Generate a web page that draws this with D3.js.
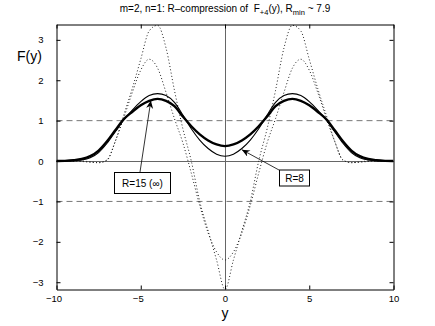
<!DOCTYPE html>
<html>
<head>
<meta charset="utf-8">
<script src="https://cdn.jsdelivr.net/npm/d3@7"></script>
<style>
  body { margin: 0; background: #fff; }
  text { font-family: "Liberation Sans", Arial, Helvetica, sans-serif; }
  .axis path, .axis line { stroke: #000; }
  .axis text { font-size: 9.5px; fill: #000; }
</style>
</head>
<body>
<div id="chart"></div>
<script>
// sample positions along y
var ys = [-10,-9.5,-9,-8.5,-8,-7.5,-7,-6.5,-6,-5.5,-5,-4.5,-4,-3.5,-3,-2.5,-2,-1.5,-1,-0.5,
          0,0.5,1,1.5,2,2.5,3,3.5,4,4.5,5,5.5,6,6.5,7,7.5,8,8.5,9,9.5,10];

// R=15 (~ infinity), thick line
var fR15 = [0,0.005,0.02,0.05,0.12,0.26,0.49,0.77,1.04,1.22,1.38,1.49,1.54,1.49,1.36,1.10,0.86,0.66,0.51,0.41,
            0.37,0.41,0.51,0.66,0.86,1.10,1.36,1.49,1.54,1.49,1.38,1.22,1.04,0.77,0.49,0.26,0.12,0.05,0.02,0.005,0];
// R=8, thin line
var fR8 = [0,0,0.007,0.025,0.08,0.21,0.44,0.73,1.02,1.26,1.47,1.62,1.67,1.62,1.45,1.14,0.80,0.52,0.31,0.17,
           0.12,0.17,0.31,0.52,0.80,1.14,1.45,1.62,1.67,1.62,1.47,1.26,1.02,0.73,0.44,0.21,0.08,0.025,0.007,0,0];
// dotted, closer to Rmin
var fDotA = [0,0,0,-0.01,-0.03,-0.04,0.02,0.50,1.15,1.80,2.52,3.22,3.36,2.80,1.75,0.80,0.0,-1.0,-1.73,-2.45,
             -3.18,-2.45,-1.73,-1.0,0.0,0.80,1.75,2.80,3.36,3.22,2.52,1.80,1.15,0.50,0.02,-0.04,-0.03,-0.01,0,0,0];
var fDotB = [0,0,0,0,-0.02,-0.04,0.03,0.50,1.08,1.70,2.25,2.52,2.30,1.70,1.05,0.45,-0.3,-1.1,-1.78,-2.25,
             -2.45,-2.25,-1.78,-1.1,-0.3,0.45,1.05,1.70,2.30,2.52,2.25,1.70,1.08,0.50,0.03,-0.04,-0.02,0,0,0,0];

var xTicks = [-10,-5,0,5,10];
var yTicks = [-3,-2,-1,0,1,2,3];
var dashLevels = [1,-1];

createPlot();

function createPlot(){
  var svg = d3.select("#chart")
      .append("svg")
      .attr("width", 435)
      .attr("height", 326);

  var pArea = [56.5, 24.5, 393.5, 289.5];

  var x = d3.scaleLinear()
      .domain([-10,10])
      .range([pArea[0], pArea[2]]);
  var y = d3.scaleLinear()
      .domain([-3.18,3.38])
      .range([pArea[3], pArea[1]]);

  var defs = svg.append("defs");
  defs.append("clipPath").attr("id","clip")
    .append("rect")
      .attr("x", pArea[0]).attr("y", pArea[1])
      .attr("width", pArea[2]-pArea[0]).attr("height", pArea[3]-pArea[1]);
  defs.append("marker")
      .attr("id","head")
      .attr("markerUnits","userSpaceOnUse")
      .attr("markerWidth", 10).attr("markerHeight", 8)
      .attr("refX", 8).attr("refY", 3.5)
      .attr("orient","auto")
    .append("path")
      .attr("d","M0,0 L8,3.5 L0,7 L2.5,3.5 Z")
      .attr("fill","#000");

  var g = svg.append("g").attr("clip-path","url(#clip)");

  // reference lines
  g.selectAll(".dash").data(dashLevels).enter()
    .append("line")
      .attr("x1", x(-10)).attr("x2", x(10))
      .attr("y1", function(d){ return y(d); })
      .attr("y2", function(d){ return y(d); })
      .attr("stroke","#777").attr("stroke-width",1)
      .attr("stroke-dasharray","6,4");
  g.append("line")
      .attr("x1", x(-10)).attr("x2", x(10))
      .attr("y1", Math.round(y(0))+0.5).attr("y2", Math.round(y(0))+0.5)
      .attr("stroke","#666").attr("stroke-width",1);
  g.append("line")
      .attr("x1", Math.round(x(0))+0.5).attr("x2", Math.round(x(0))+0.5)
      .attr("y1", y(-3.18)).attr("y2", y(3.38))
      .attr("stroke","#666").attr("stroke-width",1);

  var line = function(vals){
    return d3.line()
      .x(function(d,i){ return x(ys[i]); })
      .y(function(d){ return y(d); })
      .curve(d3.curveMonotoneX)(vals);
  };

  g.append("path").attr("d", line(fDotA))
    .attr("fill","none").attr("stroke","#222").attr("stroke-width",1)
    .attr("stroke-dasharray","1,2.3");
  g.append("path").attr("d", line(fDotB))
    .attr("fill","none").attr("stroke","#222").attr("stroke-width",1)
    .attr("stroke-dasharray","1,2.3");
  g.append("path").attr("d", line(fR8))
    .attr("fill","none").attr("stroke","#000").attr("stroke-width",1.1);
  g.append("path").attr("d", line(fR15))
    .attr("fill","none").attr("stroke","#000").attr("stroke-width",2.4);

  // axes, MATLAB style: ticks inside, box on
  svg.append("g")
    .attr("class","axis")
    .attr("transform", `translate(${pArea[0]},0)`)
    .call(d3.axisLeft(y).tickValues(yTicks).tickSizeInner(-4).tickSizeOuter(0).tickPadding(13)
      .tickFormat(function(d){ return d<0 ? "\u2212"+(-d) : d; }));
  svg.append("g")
    .attr("class","axis")
    .attr("transform", `translate(${pArea[2]},0)`)
    .call(d3.axisRight(y).tickValues(yTicks).tickSizeInner(-4).tickSizeOuter(0).tickFormat(""));
  var xa = svg.append("g")
    .attr("class","axis")
    .attr("transform", `translate(0,${pArea[3]})`)
    .call(d3.axisBottom(x).tickValues(xTicks).tickSizeInner(-4).tickSizeOuter(0).tickPadding(6)
      .tickFormat(function(d){ return d<0 ? "\u2212"+(-d) : d; }));
  xa.selectAll("text").attr("dx", function(d){ return d<0 ? -3 : 0; });
  svg.append("g")
    .attr("class","axis")
    .attr("transform", `translate(0,${pArea[1]})`)
    .call(d3.axisTop(x).tickValues(xTicks).tickSizeInner(-4).tickSizeOuter(0).tickFormat(""));
  svg.selectAll(".axis .domain").attr("stroke-width",1);

  // labels
  svg.append("text")
    .attr("x", 17).attr("y", 61)
    .style("font-size","14px")
    .text("F(y)");
  svg.append("text")
    .attr("x", (x.range()[0]+x.range()[1])*0.5).attr("y", 318)
    .attr("text-anchor","middle")
    .style("font-size","14px")
    .text("y");

  var title = svg.append("text")
    .attr("x", 225).attr("y", 12)
    .attr("text-anchor","middle")
    .style("font-size","10px");
  title.append("tspan").text("m=2, n=1: R\u2013compression of \u00A0F");
  title.append("tspan").attr("dy",3).style("font-size","7.5px").text("+4");
  title.append("tspan").attr("dy",-3).text("(y), R");
  title.append("tspan").attr("dy",3).style("font-size","7.5px").text("min");
  title.append("tspan").attr("dy",-3).text(" ~ 7.9");

  // annotations
  var notes = [
    {label:"R=15 (\u221E)", box:[114,172,56,21], from:[140,172], to:[x(-4.4), y(1.5)]},
    {label:"R=8", box:[279,169.5,30,16], from:[279,170], to:[x(1.0), y(0.28)]}
  ];
  notes.forEach(function(n){
    svg.append("line")
      .attr("x1", n.from[0]).attr("y1", n.from[1])
      .attr("x2", n.to[0]).attr("y2", n.to[1])
      .attr("stroke","#000").attr("stroke-width",0.8)
      .attr("marker-end","url(#head)");
    svg.append("rect")
      .attr("x", n.box[0]+0.5).attr("y", n.box[1]+0.5)
      .attr("width", n.box[2]).attr("height", n.box[3])
      .attr("fill","#fff").attr("stroke","#000").attr("stroke-width",1);
    svg.append("text")
      .attr("x", n.box[0]+n.box[2]/2+0.5).attr("y", n.box[1]+n.box[3]/2+4)
      .attr("text-anchor","middle")
      .style("font-size","10px")
      .text(n.label);
  });
}
</script>
</body>
</html>
